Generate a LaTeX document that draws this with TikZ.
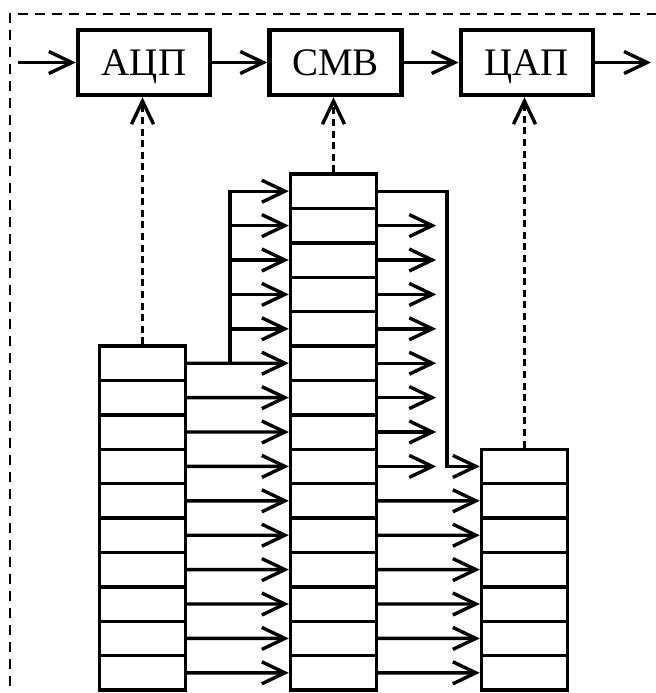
\documentclass[tikz,border=0pt]{standalone}
\usepackage{fontspec}
\setmainfont{Liberation Serif}
\usetikzlibrary{calc,positioning,arrows.meta}
\newlength{\cellh}
\setlength{\cellh}{17.2pt}
\tikzset{
  cell/.style={
    draw=black,
    line width=1.7pt,
    minimum width=43pt,
    minimum height=\cellh,
    inner sep=0pt
  },
  unit/.style={
    draw=black,
    line width=2.2pt,
    minimum width=66pt,
    minimum height=32.5pt,
    inner sep=0pt,
    text height=13pt,
    text depth=0pt,
    font=\fontsize{19.5}{22}\selectfont
  },
  conn/.style={line width=1.7pt, -{Straight Barb[length=11.5pt,width=11pt]}},
  ctl/.style={conn, dash pattern=on 3.5pt off 2.3pt},
  frame/.style={line width=1.1pt, dash pattern=on 5pt off 3.5pt},
}
\newcommand{\RegisterCol}[4]{%
  \begin{scope}[shift={(#2,#3)}]
    \foreach \i in {1,...,#4} {
      \node[cell] (#1\i) at (0,{-(\i-0.5)*\cellh}) {};
    }
  \end{scope}
}

\begin{document}
\begin{tikzpicture}[x=0.5pt, y=-0.5pt]
  \useasboundingbox (0,0) rectangle (656,693);
  \clip (0,0) rectangle (656,693);
  \draw[frame] (10,720) |- (720,14);

  % converter chain
  \node[unit] (adc) at (144,62.5) {АЦП};
  \node[unit, right=27.5pt of adc] (cmb) {СМВ};
  \node[unit, right=27.5pt of cmb] (dac) {ЦАП};
  \coordinate (in) at (18,62.5);
  \coordinate (out) at (651,62.5);
  \draw[conn] (in) -- (adc);
  \draw[conn] (adc) -- (cmb);
  \draw[conn] (cmb) -- (dac);
  \draw[conn] (dac) -- (out);

  % registers
  \RegisterCol{RA}{142.5}{346}{10}
  \RegisterCol{RB}{333.5}{174}{15}
  \RegisterCol{RC}{524.5}{449.2}{7}

  \draw[ctl] (RA1.north) -- (RA1.north |- adc.south);
  \draw[ctl] (RB1.north) -- (RB1.north |- cmb.south);
  \draw[ctl] (RC1.north) -- (RC1.north |- dac.south);

  % RA -> RB
  \foreach \i in {1,...,10} {
    \pgfmathtruncatemacro{\j}{\i+5}
    \draw[conn] (RA\i.east) -- (RB\j.west);
  }
  \coordinate (bus) at ($(RA1.east)!0.42!(RB6.west)$);
  \foreach \k in {1,...,5} {
    \draw[conn] (bus) |- (RB\k.west);
  }

  % RB -> RC
  \foreach \i in {2,...,9} {
    \coordinate (out\i) at ($(RB\i.east)+(58,0)$);
    \draw[conn] (RB\i.east) -- (out\i);
  }
  \coordinate (turn) at ($(RB1.east)+(69,0)$);
  \draw[conn] (RB1.east) -- (turn) |- (RC1.west);
  \foreach \i in {10,...,15} {
    \pgfmathtruncatemacro{\j}{\i-8}
    \draw[conn] (RB\i.east) -- (RC\j.west);
  }
\end{tikzpicture}
\end{document}
